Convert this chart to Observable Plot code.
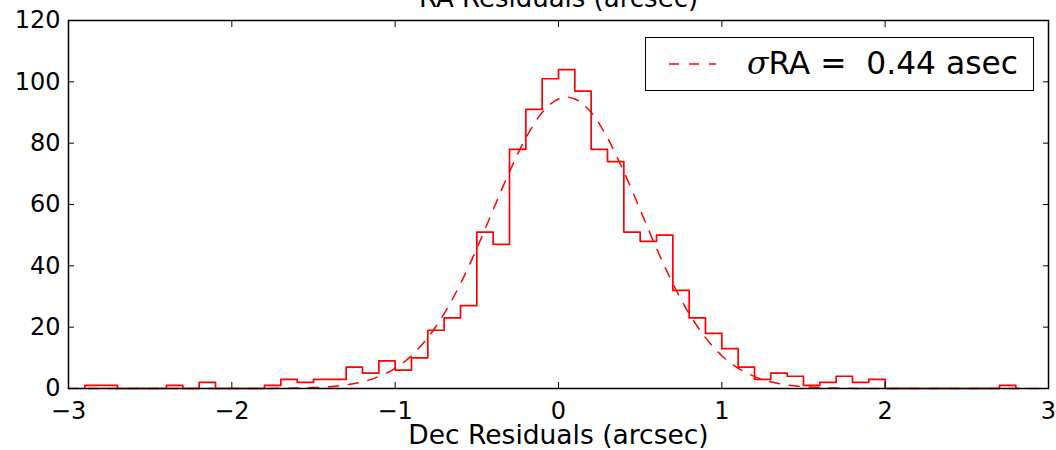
<!DOCTYPE html>
<html><head><meta charset="utf-8">
<script src="https://cdn.jsdelivr.net/npm/d3@7"></script>
<script src="https://cdn.jsdelivr.net/npm/@observablehq/plot@0.6"></script>
<style>
body{margin:0;background:#fff;}
#wrap{position:relative;width:1056px;height:450px;overflow:hidden;font-family:"DejaVu Sans",sans-serif;color:#000;}
#legend{position:absolute;left:645px;top:37px;width:389px;height:54px;border:1.5px solid #000;box-sizing:border-box;background:#fff;}
#legend svg{position:absolute;left:0;top:0;}
#legend .lab{position:absolute;left:101px;top:50%;transform:translateY(-50%);font-size:31.3px;white-space:pre;line-height:1;}
</style></head><body><div id="wrap"></div>
<script>
// Histogram bin edges (arcsec) and counts
const binEdges = [-2.9,-2.8,-2.7,-2.6,-2.5,-2.4,-2.3,-2.2,-2.1,-2.0,-1.9,-1.8,-1.7,-1.6,-1.5,-1.4,-1.3,-1.2,-1.1,-1.0,-0.9,-0.8,-0.7,-0.6,-0.5,-0.4,-0.3,-0.2,-0.1,0.0,0.1,0.2,0.3,0.4,0.5,0.6,0.7,0.8,0.9,1.0,1.1,1.2,1.3,1.4,1.5,1.6,1.7,1.8,1.9,2.0,2.1,2.2,2.3,2.4,2.5,2.6,2.7,2.8];
const counts = [1,1,0,0,0,1,0,2,0,0,0,1,3,2,3,3,7,5,9,6,10,19,23,27,51,47,78,91,101,104,97,78,74,51,48,50,32,23,18,13,7,3,5,4,1,2,4,2,3,0,0,0,0,0,0,0,1];
// Fitted gaussian curve
const fitX = [-3,-2.5,-2,-1.8,-1.6,-1.5,-1.4,-1.3,-1.2,-1.1,-1.0,-0.9,-0.8,-0.7,-0.6,-0.5,-0.4,-0.3,-0.2,-0.1,0.0,0.05,0.1,0.2,0.3,0.4,0.5,0.6,0.7,0.8,0.9,1.0,1.1,1.2,1.3,1.4,1.5,1.6,1.7,1.9,2.0,2.5,3];
const fitY = [0,0,0,0.02,0.13,0.29,0.59,1.16,2.18,3.89,6.6,10.7,16.6,24.4,34.2,45.7,58.3,70.7,81.7,90.0,94.4,95,94.4,90.0,81.7,70.7,58.3,45.7,34.2,24.4,16.6,10.7,6.6,3.89,2.18,1.16,0.59,0.29,0.13,0.02,0.01,0,0];
const xTicks = [-3,-2,-1,0,1,2,3];
const yTicks = [0,20,40,60,80,100,120];
const titleText = "RA Residuals (arcsec)";
const xLabelText = "Dec Residuals (arcsec)";
const legendLabel = "RA =  0.44 asec";

const steps = [{x: binEdges[0], y: 0}]
  .concat(counts.map((c, i) => ({x: binEdges[i], y: c})))
  .concat([{x: binEdges[binEdges.length - 1], y: 0}]);
const fit = fitX.map((x, i) => ({x, y: fitY[i]}));
const fmt = d => d < 0 ? "\u2212" + Math.abs(d) : String(d);

const red = "#ff0000";
const plot = Plot.plot({
  width: 1056, height: 450,
  marginLeft: 68, marginRight: 8, marginTop: 20, marginBottom: 62,
  style: {fontFamily: "DejaVu Sans, sans-serif", fontSize: "24px", color: "#000", background: "#fff", overflow: "visible"},
  x: {domain: [-3, 3]},
  y: {domain: [0, 120]},
  marks: [
    Plot.line(fit, {x: "x", y: "y", stroke: red, strokeWidth: 1.5, strokeDasharray: "10,10", curve: "monotone-x"}),
    Plot.line(steps, {x: "x", y: "y", stroke: red, strokeWidth: 1.7, curve: "step-after"}),
    Plot.frame({stroke: "#000", strokeWidth: 1.5}),
    Plot.axisX(xTicks, {anchor: "bottom", tickSize: -6, tickPadding: 19, tickFormat: fmt, label: null, fontSize: 24}),
    Plot.axisX(xTicks, {anchor: "top", tickSize: -6, tickFormat: () => "", label: null}),
    Plot.axisY(yTicks, {anchor: "left", tickSize: -6, tickPadding: 14, tickFormat: fmt, label: null, fontSize: 24}),
    Plot.axisY(yTicks, {anchor: "right", tickSize: -6, tickFormat: () => "", label: null}),
    Plot.text([titleText], {frameAnchor: "top", dy: -32, fontSize: 26, fill: "#000"}),
    Plot.text([xLabelText], {frameAnchor: "bottom", dy: 55, fontSize: 26.5, fill: "#000"})
  ]
});
const wrap = document.getElementById("wrap");
wrap.appendChild(plot);

// Legend box
const legend = document.createElement("div");
legend.id = "legend";
legend.innerHTML = `<svg width="389" height="54"><line x1="23" x2="70" y1="26" y2="26" stroke="${red}" stroke-width="1.5" stroke-dasharray="10,10"/></svg><span class="lab"><i style="font-family:'DejaVu Serif',serif">σ</i>${legendLabel}</span>`;
wrap.appendChild(legend);
</script>
</body></html>
